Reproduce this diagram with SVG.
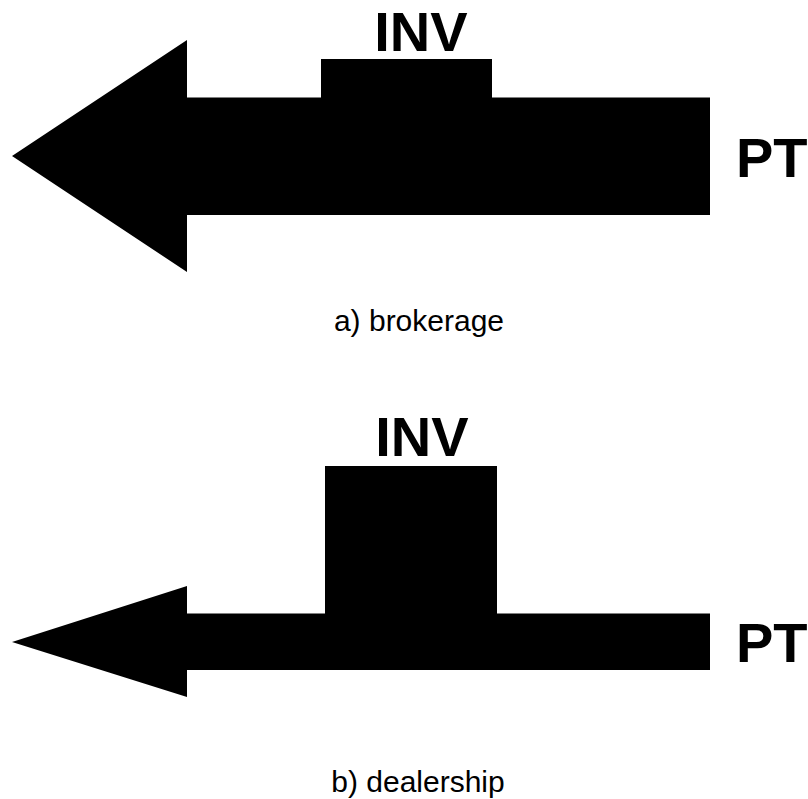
<svg xmlns="http://www.w3.org/2000/svg" width="808" height="799" viewBox="0 0 808 799">
<style>
.shape{fill:#000;stroke:none}
.big{font-family:"Liberation Sans",Arial,sans-serif;font-weight:bold;font-size:56px;fill:#000}
.cap{font-family:"Liberation Sans",Arial,sans-serif;font-size:30px;fill:#000;text-anchor:middle}
</style>
<rect width="808" height="799" fill="#fff"/>
<g id="brokerage">
<path class="shape" d="M12,156 L187,40 L187,97.5 L321,97.5 L321,59 L492,59 L492,97.5 L710,97.5 L710,215 L187,215 L187,272 Z"/>
<text class="big" x="421" y="51" text-anchor="middle">INV</text>
<text class="big" x="736" y="177">PT</text>
<text class="cap" x="419" y="331">a) brokerage</text>
</g>
<g id="dealership">
<path class="shape" d="M12,642 L187,586 L187,613.5 L325,613.5 L325,466 L497,466 L497,613.5 L710,613.5 L710,670 L187,670 L187,697 Z"/>
<text class="big" x="422" y="456" text-anchor="middle">INV</text>
<text class="big" x="736" y="662">PT</text>
<text class="cap" x="418" y="792">b) dealership</text>
</g>
</svg>
